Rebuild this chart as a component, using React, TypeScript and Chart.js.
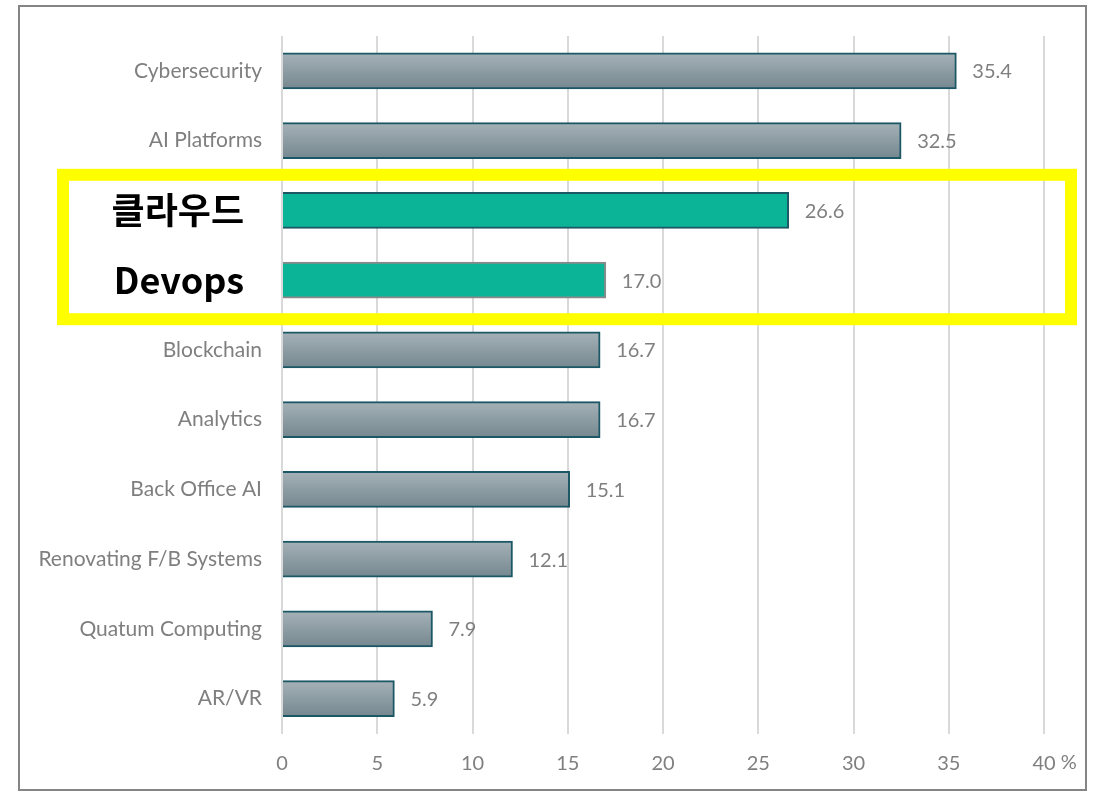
import React, { useEffect, useRef } from "react";
import { Chart, registerables } from "chart.js";

Chart.register(...registerables);

const CATEGORIES = [
  "Cybersecurity",
  "AI Platforms",
  "클라우드",
  "Devops",
  "Blockchain",
  "Analytics",
  "Back Office AI",
  "Renovating F/B Systems",
  "Quatum Computing",
  "AR/VR",
];
const VALUES = [35.4, 32.5, 26.6, 17.0, 16.7, 16.7, 15.1, 12.1, 7.9, 5.9];
const HIGHLIGHTED = ["클라우드", "Devops"];
const X_MIN = 0;
const X_MAX = 40;
const X_STEP = 5;
const UNIT = "%";

const FONT = "Lato, 'Open Sans', sans-serif";
const GRAY_TEXT = "#7f7f7f";

const isHi = (i: number) => HIGHLIGHTED.includes(CATEGORIES[i]);

export default function App() {
  const ref = useRef<HTMLCanvasElement | null>(null);

  useEffect(() => {
    if (!ref.current) return;

    const decor = {
      id: "decor",
      beforeDraw(chart: any) {
        const { ctx } = chart;
        ctx.save();
        ctx.fillStyle = "#ffffff";
        ctx.fillRect(0, 0, chart.width, chart.height);
        ctx.strokeStyle = "#858585";
        ctx.lineWidth = 2;
        ctx.strokeRect(19, 6, 1067, 784);
        ctx.restore();
      },
      afterDatasetsDraw(chart: any) {
        const { ctx } = chart;
        const meta = chart.getDatasetMeta(0);
        ctx.save();
        ctx.font = `20px ${FONT}`;
        ctx.fillStyle = GRAY_TEXT;
        ctx.textBaseline = "middle";
        ctx.textAlign = "left";
        meta.data.forEach((el: any, i: number) => {
          ctx.fillText(VALUES[i].toFixed(1), el.x + 16, el.y + 1);
        });
        const xs = chart.scales.x;
        const px = xs.getPixelForValue(X_MAX);
        const w = ctx.measureText(String(X_MAX)).width;
        ctx.fillText(" " + UNIT, px + w / 2, 763);
        ctx.restore();
      },
      afterDraw(chart: any) {
        const { ctx } = chart;
        const ys = chart.scales.y;
        const idx = HIGHLIGHTED.map((h) => CATEGORIES.indexOf(h));
        const a = Math.min(...idx);
        const b = Math.max(...idx);
        const catH = ys.getPixelForValue(1) - ys.getPixelForValue(0);
        const top = ys.getPixelForValue(a) - catH * 0.51;
        const bottom = ys.getPixelForValue(b) + catH * 0.56;
        const right = chart.chartArea.right + 27;
        ctx.save();
        ctx.strokeStyle = "#ffff00";
        ctx.lineWidth = 12;
        ctx.strokeRect(63, top, right - 63, bottom - top);
        ctx.restore();
      },
    };

    const chart = new Chart(ref.current, {
      type: "bar",
      data: {
        labels: CATEGORIES,
        datasets: [
          {
            data: VALUES,
            barThickness: 36,
            borderWidth: 2,
            borderSkipped: "start",
            borderColor: (c: any) =>
              CATEGORIES[c.dataIndex] === "Devops" ? "#8a8a8a" : "#1c5766",
            backgroundColor: (c: any) => {
              if (isHi(c.dataIndex)) return "#0cb497";
              const ys = c.chart.scales && c.chart.scales.y;
              if (!ys || !c.chart.chartArea) return "#8c9ca3";
              const p = ys.getPixelForValue(c.dataIndex);
              const g = c.chart.ctx.createLinearGradient(0, p - 18, 0, p + 18);
              g.addColorStop(0, "#a5b2b8");
              g.addColorStop(1, "#75878f");
              return g;
            },
          },
        ],
      },
      options: {
        indexAxis: "y",
        responsive: false,
        animation: false,
        layout: { padding: { top: 36, right: 63, left: 0, bottom: 0 } },
        plugins: {
          legend: { display: false },
          tooltip: { enabled: false },
        },
        scales: {
          x: {
            min: X_MIN,
            max: X_MAX,
            grid: {
              color: "#d9d9d9",
              lineWidth: 2,
              drawTicks: false,
            },
            border: { display: false },
            ticks: {
              stepSize: X_STEP,
              padding: 18,
              color: GRAY_TEXT,
              font: { family: FONT, size: 20 },
            },
            afterFit(scale: any) {
              scale.height = 58.5;
            },
          },
          y: {
            grid: { display: false },
            border: { display: false },
            ticks: {
              padding: 12,
              autoSkip: false,
              color: (c: any) => (isHi(c.index) ? "#000000" : GRAY_TEXT),
              font: (c: any) =>
                isHi(c.index)
                  ? { family: "'Noto Sans CJK KR', sans-serif", size: 36, weight: "bold" }
                  : { family: FONT, size: 21 },
              callback: (_v: any, i: number) =>
                isHi(i) ? CATEGORIES[i] + "\u2002" : CATEGORIES[i],
            },
            afterFit(scale: any) {
              scale.width = 282;
            },
          },
        },
      } as any,
      plugins: [decor],
    });

    return () => chart.destroy();
  }, []);

  return (
    <div style={{ position: "absolute", left: 0, top: 0, width: 1107, height: 792 }}>
      <canvas ref={ref} width={1107} height={792} style={{ display: "block" }} />
    </div>
  );
}
